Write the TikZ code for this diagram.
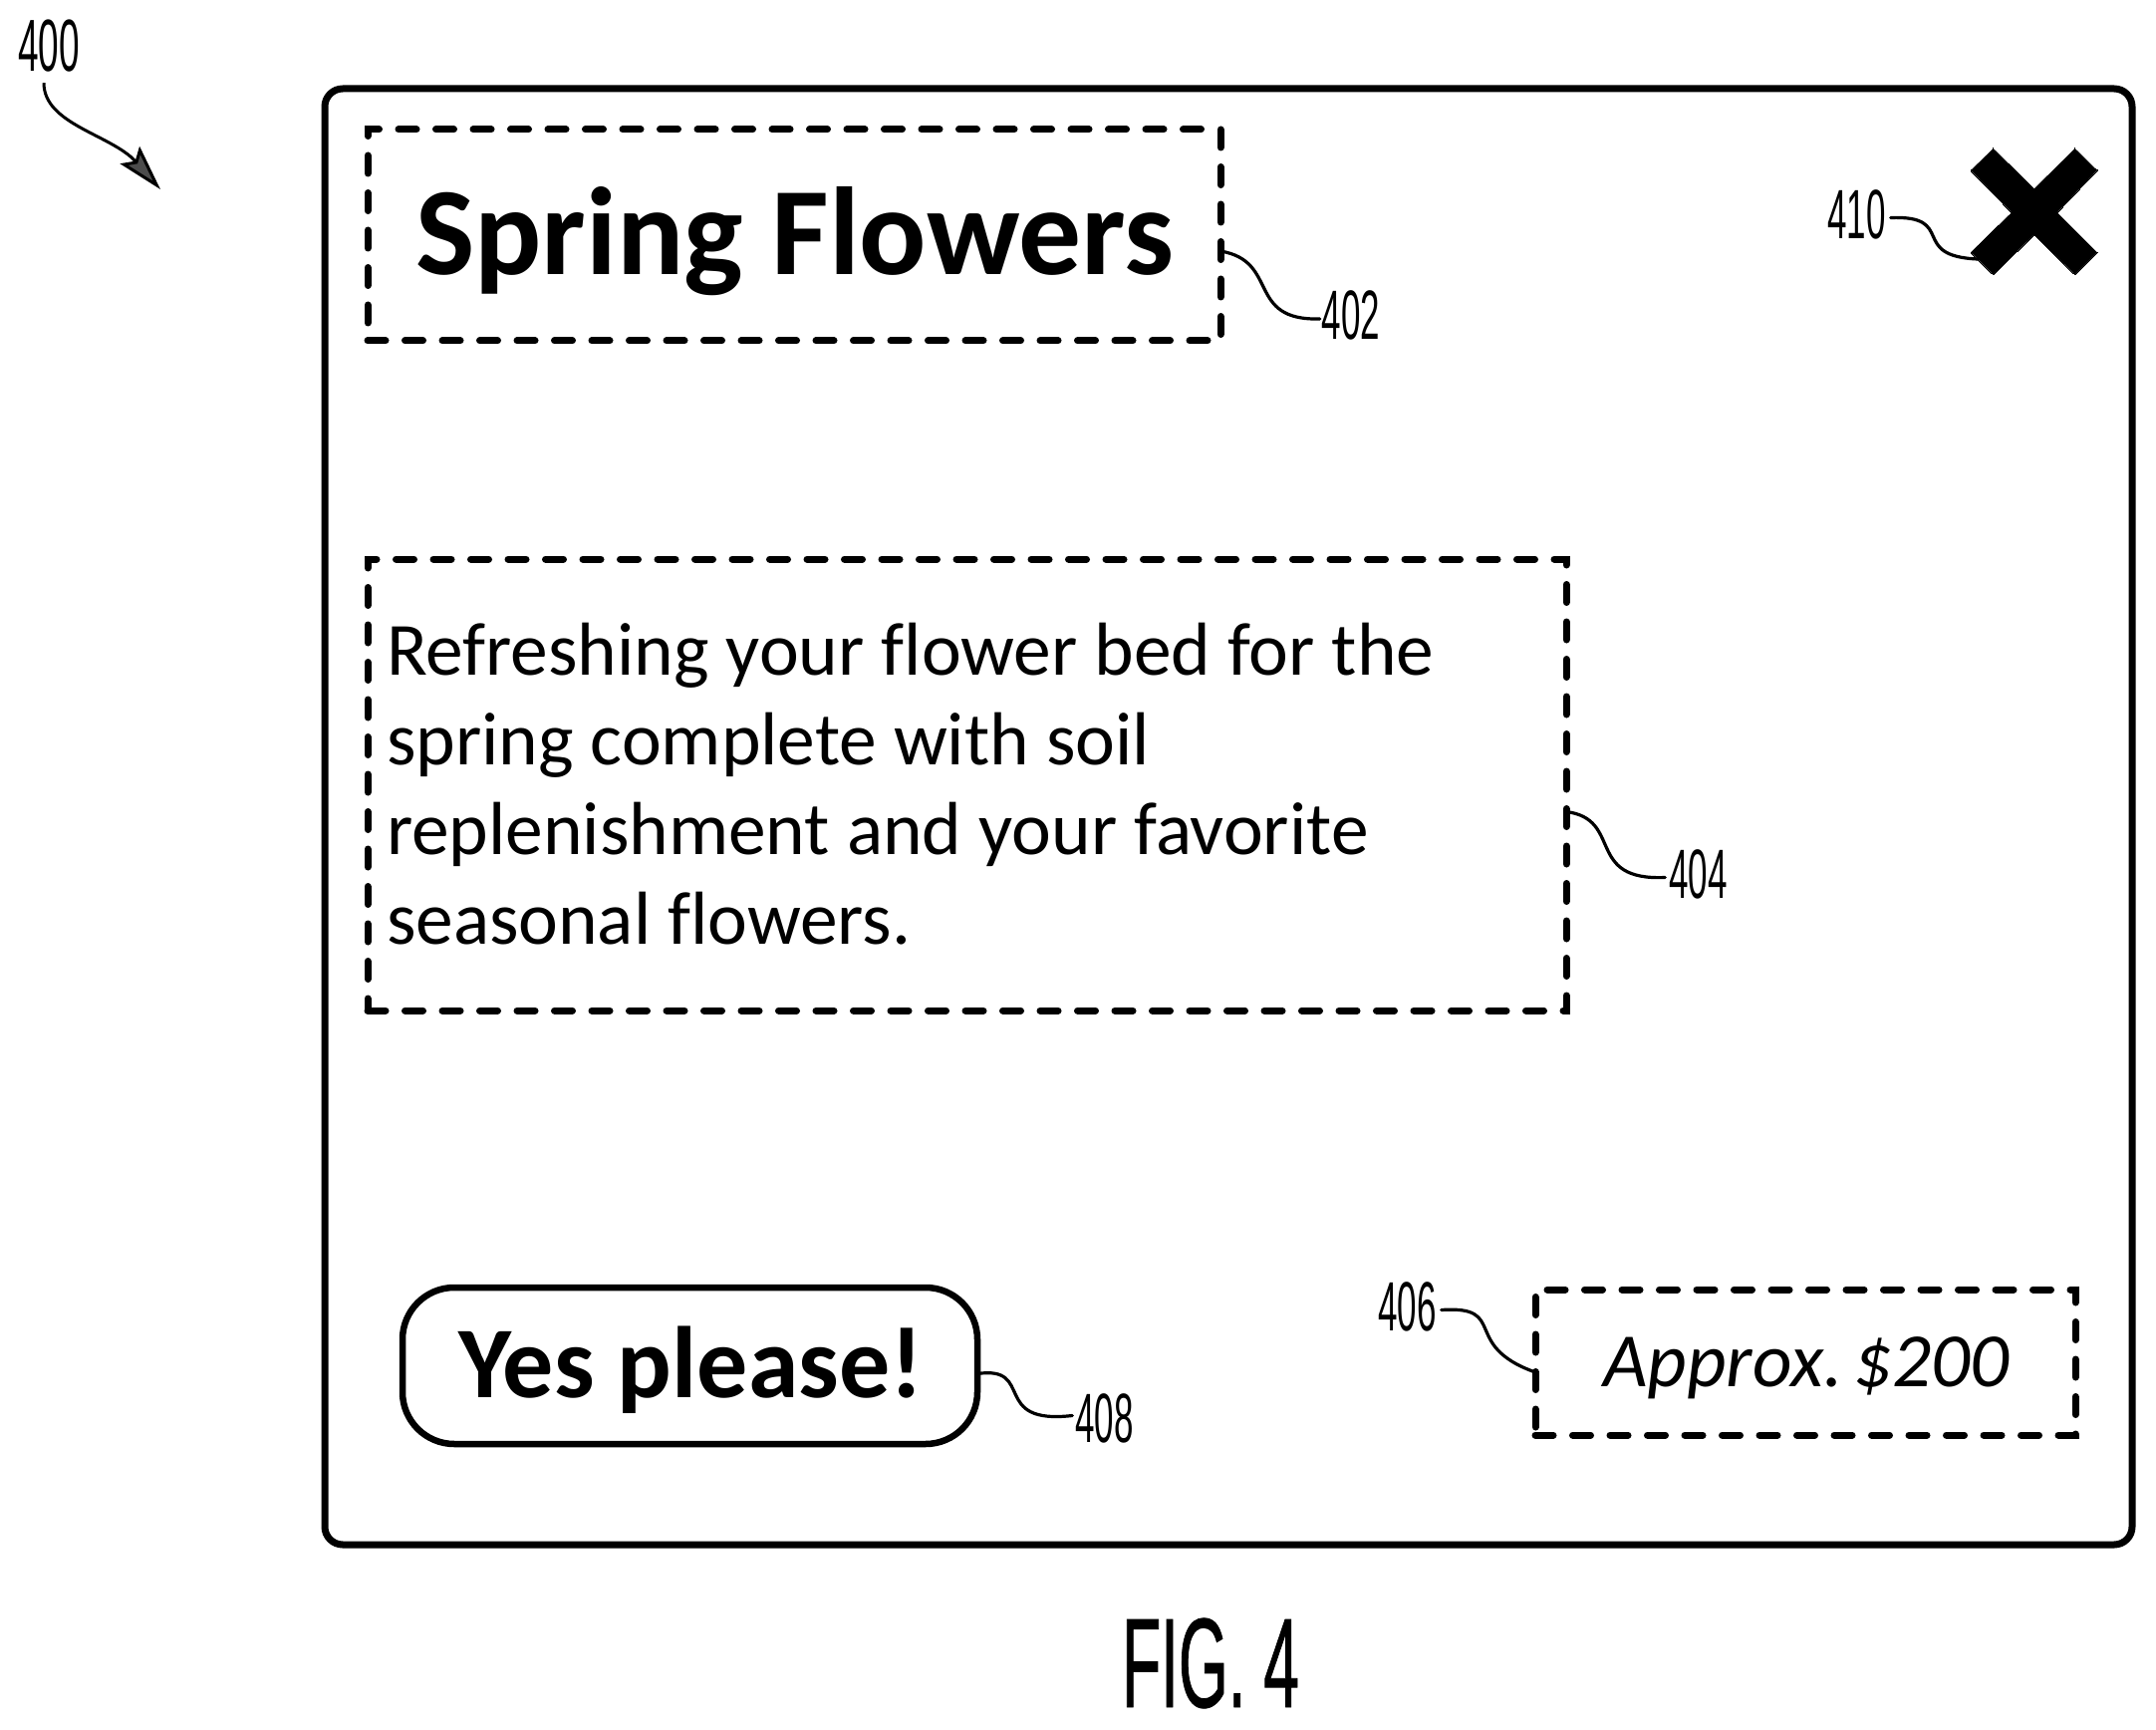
\documentclass[tikz,border=0pt]{standalone}
\usepackage{fontspec}
\usetikzlibrary{arrows.meta}
\setmainfont[Ligatures=NoCommon]{Carlito}
\newfontfamily\narrowf[FakeStretch=0.5]{Liberation Sans}
\newfontfamily\figf[FakeStretch=0.5,FakeBold=0.6]{Liberation Sans}
\newcommand{\fsz}[1]{\fontsize{#1}{#1}\selectfont}
\tikzset{
  dashbox/.style={draw,line width=7pt,line cap=round,dash pattern=on 18pt off 19.5pt,inner sep=0pt,outer sep=0pt},
  leader/.style={draw,line width=3.2pt,line cap=round},
  reflabel/.style={inner sep=0pt,outer sep=0pt,font=\narrowf\fsz{70}},
  txt/.style={inner sep=0pt,outer sep=0pt,anchor=base west}
}
\begin{document}
\begin{tikzpicture}[x=1pt,y=-1pt]
\useasboundingbox (0,0) rectangle (2164,1736);
% outer window
\node[draw,line width=7pt,rounded corners=18pt,inner sep=0pt,outer sep=0pt,minimum width=1814pt,minimum height=1461pt] (win) at (1233,819.5) {};
% boxes
\node[dashbox,minimum width=856pt,minimum height=212pt] (titlebox) at (797,236) {};
\node[dashbox,minimum width=1203pt,minimum height=453pt] (bodybox) at (970.5,787.5) {};
\node[dashbox,minimum width=542pt,minimum height=146pt] (pricebox) at (1812,1367) {};
\node[draw,line width=6.5pt,rounded corners=52pt,inner sep=0pt,outer sep=0pt,minimum width=577pt,minimum height=157pt] (yesbox) at (692.5,1370.5) {};
% texts
\node[txt,font=\bfseries\fsz{125.5}] (titletext) at (417,276) {Spring Flowers};
\node[inner sep=0pt,outer sep=0pt,anchor=north west,align=left,font=\fontsize{75.4}{90}\selectfont] (bodytext) at (388,625) {Refreshing your flower bed for the\\spring complete with soil\\replenishment and your favorite\\seasonal flowers.};
\node[txt,font=\bfseries\fsz{102}] (yestext) at (460,1402) {Yes please!};
\node[txt,font=\itshape\fsz{77}] (pricetext) at (1609,1391) {Approx.\hspace{11pt}\$200};
% close mark
\filldraw[black,line width=0pt] (2000.7,149) -- (1978,171) -- (2019,213.3) -- (1978,253.3) -- (2000.7,275.7) -- (2041.7,235.7) -- (2082.7,275.7) -- (2105,253.3) -- (2065,213.3) -- (2105,171) -- (2082.7,149) -- (2041.7,189.3) -- cycle;
\coordinate (closepoint) at (1985,260);
% reference labels
\node[reflabel,font=\narrowf\fsz{74}] (l400) at (49,46) {400};
\node[reflabel] (l402) at (1356,316) {402};
\node[reflabel] (l404) at (1704.5,877.5) {404};
\node[reflabel] (l406) at (1412.5,1311.5) {406};
\node[reflabel] (l408) at (1108.5,1423.5) {408};
\node[reflabel] (l410) at (1863.5,215.5) {410};
\node[inner sep=0pt,outer sep=0pt,font=\figf\fsz{128}] (figlabel) at (1215,1669) {FIG. 4};
\coordinate (target400) at (161,190);
% leaders
\draw[leader] ([yshift=-16pt]titlebox.east) .. controls (1285,262) and (1250,322) .. ([xshift=-2pt,yshift=-4pt]l402.west);
\draw[leader] ([yshift=-27pt]bodybox.east) .. controls (1630,822) and (1590,884) .. ([xshift=-4pt,yshift=-3pt]l404.west);
\draw[leader] ([xshift=5pt,yshift=-3pt]l406.east) .. controls (1515,1310) and (1465,1350) .. ([yshift=-10pt]pricebox.west);
\draw[leader] ([yshift=-8pt]yesbox.east) .. controls (1040,1370) and (993,1430) .. ([xshift=-3pt,yshift=3pt]l408.west);
\draw[leader] ([xshift=5pt,yshift=-3pt]l410.east) .. controls (1965,216) and (1915,257) .. (closepoint);
\draw[line width=3pt,-{Stealth[length=46pt,width=26pt,inset=8pt,fill=black!70]}] ([xshift=-5pt,yshift=-11pt]l400.south) .. controls (44,125) and (112,135) .. (target400);
\end{tikzpicture}
\end{document}
